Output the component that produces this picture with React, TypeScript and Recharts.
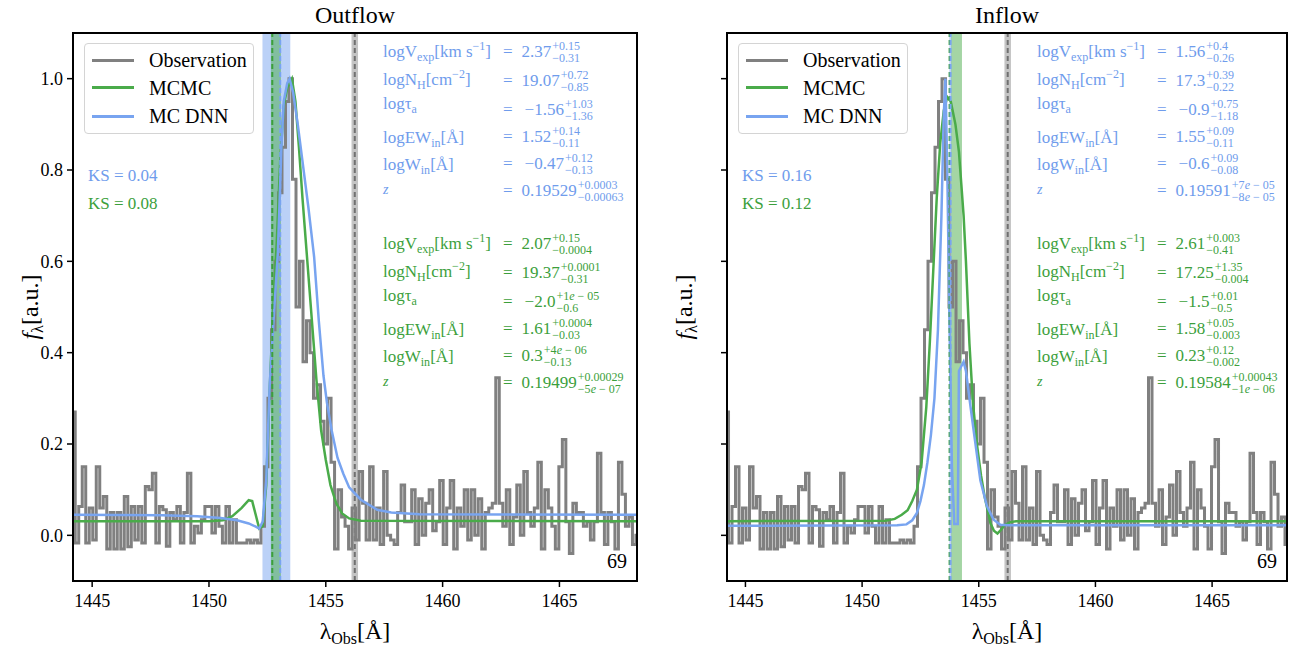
import React from 'react';
import { ComposedChart, Line, XAxis, YAxis, ReferenceArea, ReferenceLine } from 'recharts';

const SERIF = '"Liberation Serif", "DejaVu Serif", serif';
const GRAY = '#808080';
const GREEN = '#4aab4a';
const BLUE = '#78a4f0';
const GREEN_TXT = '#3c9f3c';
const BLUE_TXT = '#6f9cec';

// observed spectrum: pixels of 0.15 A starting at 1444.2 A (same in both panels)
const OBS_START = 1444.2;
const OBS_STEP = 0.15;
const obsFlux = [
  0.27, -0.017, 0.063, 0.15, -0.017, 0.06, -0.01, 0.15, 0.06, 0.085,
  -0.03, 0.05, -0.03, 0.05, -0.03, 0.085, -0.025, 0.063, -0.01, 0.063,
  -0.017, 0.107, 0.1, 0.136, -0.017, 0.063, 0.056, -0.024, 0.05, 0.034,
  0.063, -0.017, 0.05, 0.136, -0.017, 0.02, 0.005, 0.034, 0.063, 0.063,
  0.005, 0.063, 0.02, -0.017, 0.063, -0.017, 0.034, -0.017, -0.017, -0.017,
  -0.01, -0.017, -0.01, -0.017,
  0.02, 0.15, 0.3, 0.45, 0.6, 0.75, 0.85, 0.95, 1.0, 0.78,
  0.5, 0.6, 0.38, 0.47, 0.4, 0.3, 0.33, 0.25, 0.2, 0.3,
  0.16, -0.03, 0.1, 0.04, 0.02, -0.03, 0.06, -0.01, 0.14, 0.07,
  -0.01, 0.15, -0.01, 0.06, -0.02, 0.14, 0.0, -0.01,
  -0.02, 0.05, 0.11, 0.03, 0.03, 0.1, -0.02, 0.08, 0.0, 0.07,
  0.1, 0.01, 0.03, 0.12, -0.02, 0.06, 0.12, -0.03, 0.06, 0.02,
  0.1, -0.01, 0.1, 0.0, 0.08, -0.03, 0.05, 0.06, 0.07, 0.345,
  0.07, 0.02, 0.1, -0.02, 0.04, 0.11, 0.0, 0.14, 0.05, 0.02,
  0.06, 0.16, -0.03, 0.1, 0.06, 0.02, -0.03, 0.15, 0.21, 0.03,
  -0.04, 0.07, 0.05, 0.05, 0.02, 0.03, -0.01, 0.03, 0.18, 0.05,
  -0.02, 0.05, 0.03, -0.03, 0.16, 0.09, 0.02, 0.04, -0.02, 0.0,
];

// Outflow fits
const outMcmcWave = [1444.1, 1450.0, 1450.6, 1451.0, 1451.4, 1451.7, 1451.85, 1452.0, 1452.15, 1452.3, 1452.45, 1452.6, 1452.75, 1452.9, 1453.05, 1453.2, 1453.35, 1453.55, 1453.7, 1453.85, 1454.0, 1454.15, 1454.3, 1454.45, 1454.6, 1454.8, 1455.0, 1455.2, 1455.45, 1455.7, 1456.0, 1456.5, 1468.4];
const outMcmcFlux = [0.031, 0.031, 0.033, 0.042, 0.06, 0.077, 0.075, 0.045, 0.015, 0.02, 0.11, 0.32, 0.5, 0.64, 0.82, 0.94, 0.98, 1.0, 0.95, 0.85, 0.74, 0.64, 0.54, 0.44, 0.34, 0.23, 0.165, 0.11, 0.07, 0.048, 0.037, 0.032, 0.031];
const outDnnWave = [1444.1, 1448.0, 1449.5, 1450.5, 1451.2, 1451.7, 1452.0, 1452.15, 1452.3, 1452.45, 1452.6, 1452.8, 1452.95, 1453.1, 1453.2, 1453.35, 1453.45, 1453.6, 1453.8, 1454.0, 1454.25, 1454.5, 1454.7, 1454.9, 1455.05, 1455.25, 1455.5, 1455.75, 1456.0, 1456.5, 1457.2, 1457.8, 1459.0, 1468.4];
const outDnnFlux = [0.045, 0.044, 0.042, 0.038, 0.033, 0.026, 0.019, 0.015, 0.03, 0.12, 0.33, 0.5, 0.62, 0.85, 0.95, 0.99, 1.0, 0.97, 0.9, 0.82, 0.72, 0.61, 0.47, 0.35, 0.29, 0.23, 0.17, 0.135, 0.105, 0.078, 0.056, 0.05, 0.046, 0.045];

// Inflow fits
const inMcmcWave = [1444.1, 1451.0, 1451.4, 1451.7, 1451.95, 1452.15, 1452.35, 1452.55, 1452.75, 1452.9, 1453.05, 1453.2, 1453.35, 1453.5, 1453.65, 1453.8, 1454.0, 1454.15, 1454.25, 1454.35, 1454.45, 1454.6, 1454.75, 1454.93, 1455.1, 1455.25, 1455.5, 1455.65, 1455.8, 1455.95, 1456.1, 1456.35, 1456.6, 1468.4];
const inMcmcFlux = [0.031, 0.032, 0.036, 0.045, 0.055, 0.075, 0.1, 0.16, 0.28, 0.42, 0.58, 0.74, 0.86, 0.93, 0.96, 0.95, 0.9, 0.84, 0.77, 0.7, 0.6, 0.42, 0.29, 0.196, 0.13, 0.085, 0.027, 0.01, 0.004, 0.012, 0.022, 0.029, 0.031, 0.031];
const inDnnWave = [1444.1, 1451.5, 1451.9, 1452.15, 1452.35, 1452.5, 1452.65, 1452.8, 1452.95, 1453.1, 1453.25, 1453.4, 1453.5, 1453.57, 1453.65, 1453.75, 1453.85, 1453.95, 1454.1, 1454.15, 1454.35, 1454.45, 1454.6, 1454.78, 1455.07, 1455.35, 1455.64, 1455.92, 1456.3, 1468.4];
const inDnnFlux = [0.021, 0.022, 0.024, 0.033, 0.049, 0.075, 0.11, 0.16, 0.22, 0.3, 0.45, 0.7, 0.92, 1.0, 0.8, 0.45, 0.15, 0.025, 0.025, 0.36, 0.38, 0.36, 0.3, 0.23, 0.12, 0.064, 0.034, 0.023, 0.022, 0.022];

const xTicks = [1445, 1450, 1455, 1460, 1465];
const yTicks = [0, 0.2, 0.4, 0.6, 0.8, 1.0];
const legendNames = ['Observation', 'MCMC', 'MC DNN'];

const outKs = ['0.04', '0.08'];
const inKs = ['0.16', '0.12'];

// [value, upper, lower]
const outDnnParams = [
  ['2.37', '+0.15', '−0.31'], ['19.07', '+0.72', '−0.85'], ['−1.56', '+1.03', '−1.36'],
  ['1.52', '+0.14', '−0.11'], ['−0.47', '+0.12', '−0.13'], ['0.19529', '+0.0003', '−0.00063'],
];
const outMcmcParams = [
  ['2.07', '+0.15', '−0.0004'], ['19.37', '+0.0001', '−0.31'], ['−2.0', '+1e−05', '−0.6'],
  ['1.61', '+0.0004', '−0.03'], ['0.3', '+4e−06', '−0.13'], ['0.19499', '+0.00029', '−5e−07'],
];
const inDnnParams = [
  ['1.56', '+0.4', '−0.26'], ['17.3', '+0.39', '−0.22'], ['−0.9', '+0.75', '−1.18'],
  ['1.55', '+0.09', '−0.11'], ['−0.6', '+0.09', '−0.08'], ['0.19591', '+7e−05', '−8e−05'],
];
const inMcmcParams = [
  ['2.61', '+0.003', '−0.41'], ['17.25', '+1.35', '−0.004'], ['−1.5', '+0.01', '−0.5'],
  ['1.58', '+0.05', '−0.003'], ['0.23', '+0.12', '−0.002'], ['0.19584', '+0.00043', '−1e−06'],
];

const toPoints = (w: number[], f: number[]) => w.map((x, i) => ({ w: x, f: f[i] }));
const obsData = obsFlux.map((f, i) => ({ w: +(OBS_START + i * OBS_STEP).toFixed(2), f }));

const sub: React.CSSProperties = { fontSize: 12, position: 'relative', top: 4 };
const sup: React.CSSProperties = { fontSize: 12, position: 'relative', top: -7 };

const paramLabels = [
  <>logV<span style={sub}>exp</span>[km s<span style={sup}>−1</span>]</>,
  <>logN<span style={sub}>H</span>[cm<span style={sup}>−2</span>]</>,
  <>logτ<span style={sub}>a</span></>,
  <>logEW<span style={sub}>in</span>[Å]</>,
  <>logW<span style={sub}>in</span>[Å]</>,
  <i style={{ fontSize: 14 }}>z</i>,
];
const labelBase = [58, 86, 110, 144, 171, 195];
const valueBase = [58, 87, 116, 143, 170, 197];

function sci(s: string) {
  const m = s.match(/^([+−]?[\d.]+)e([+−])(\d+)$/);
  if (!m) return s;
  return <>{m[1]}<i>e</i>{` ${m[2]} `}{m[3]}</>;
}

function ParamBlock({ x, dy, color, params }: { x: number; dy: number; color: string; params: string[][] }) {
  return (
    <>
      {params.map((p, i) => (
        <React.Fragment key={i}>
          <div style={{ position: 'absolute', left: x, top: labelBase[i] + dy - 15.75, fontSize: 17, lineHeight: '20px', color, whiteSpace: 'nowrap' }}>
            {paramLabels[i]}
          </div>
          <div style={{ position: 'absolute', left: x + 120, top: valueBase[i] + dy - 15.75, fontSize: 17, lineHeight: '20px', color, whiteSpace: 'nowrap' }}>
            <span>=</span>
            <span style={{ marginLeft: p[0].startsWith('−') ? 12 : 9 }}>{p[0]}</span>
            <span style={{ display: 'inline-flex', flexDirection: 'column', fontSize: 12, lineHeight: '12px', verticalAlign: 'baseline', position: 'relative', top: -7, marginLeft: 1 }}>
              <span>{sci(p[1])}</span>
              <span>{sci(p[2])}</span>
            </span>
          </div>
        </React.Fragment>
      ))}
    </>
  );
}

type PanelProps = {
  chartX: number; chartW: number; mLeft: number; mRight: number;
  xDomain: [number, number]; showYLabels: boolean; title: string;
  mcmc: { w: number; f: number }[]; dnn: { w: number; f: number }[];
  blueBand: [number, number]; greenBand: [number, number];
  blueLine: number; greenLine: number; ks: string[];
  dnnParams: string[][]; mcmcParams: string[][];
};

function Panel(p: PanelProps) {
  const plotLeft = p.chartX + p.mLeft + 50;
  const plotRight = p.chartX + p.chartW - p.mRight;
  const cx = (plotLeft + plotRight) / 2;
  const axisStyle = { fill: '#000', fontSize: 18, fontFamily: SERIF };
  const legendColors = [GRAY, GREEN, BLUE];
  return (
    <>
      <div style={{ position: 'absolute', left: p.chartX, top: 0 }}>
        <ComposedChart width={p.chartW} height={648} margin={{ top: 33, right: p.mRight, bottom: 37, left: p.mLeft }}>
          <XAxis type="number" dataKey="w" domain={p.xDomain} allowDataOverflow ticks={xTicks} height={30}
            tickSize={6} tickMargin={7} tick={axisStyle} axisLine={{ stroke: '#000', strokeWidth: 2 }} tickLine={{ stroke: '#000', strokeWidth: 1.5 }} />
          <YAxis type="number" domain={[-0.1, 1.1]} allowDataOverflow ticks={yTicks} width={50}
            tickFormatter={(v: number) => (p.showYLabels ? v.toFixed(1) : '')}
            tickSize={6} tickMargin={4} tick={axisStyle} axisLine={{ stroke: '#000', strokeWidth: 2 }} tickLine={{ stroke: '#000', strokeWidth: 1.5 }} />
          <ReferenceArea x1={p.blueBand[0]} x2={p.blueBand[1]} fill={BLUE} fillOpacity={0.5} stroke="none" />
          <ReferenceArea x1={p.greenBand[0]} x2={p.greenBand[1]} fill={GREEN} fillOpacity={0.5} stroke="none" />
          <ReferenceArea x1={1456.1} x2={1456.38} fill="#b0b0b0" fillOpacity={0.75} stroke="none" />
          <ReferenceLine x={1456.24} stroke="#707070" strokeWidth={2} strokeDasharray="5 3" />
          <Line data={obsData} dataKey="f" type="step" stroke={GRAY} strokeWidth={3} dot={false} isAnimationActive={false} />
          <Line data={p.mcmc} dataKey="f" type="linear" stroke={GREEN} strokeWidth={2.5} dot={false} isAnimationActive={false} />
          <Line data={p.dnn} dataKey="f" type="linear" stroke={BLUE} strokeWidth={2.5} dot={false} isAnimationActive={false} />
          <ReferenceLine x={p.greenLine} stroke={GREEN_TXT} strokeWidth={2} strokeDasharray="5 3" />
          <ReferenceLine x={p.blueLine} stroke={BLUE} strokeWidth={2} strokeDasharray="5 3" />
        </ComposedChart>
      </div>
      {/* axes frame */}
      <div style={{ position: 'absolute', left: plotLeft - 1, top: 32, width: plotRight - plotLeft + 2, height: 550, border: '2px solid #000', boxSizing: 'border-box', pointerEvents: 'none' }} />

      <div style={{ position: 'absolute', left: cx - 100, width: 200, top: 0, textAlign: 'center', fontSize: 24, lineHeight: '30px' }}>{p.title}</div>
      <div style={{ position: 'absolute', left: cx - 100, width: 200, top: 616, textAlign: 'center', fontSize: 24, lineHeight: '30px' }}>
        λ<span style={{ fontSize: 16, position: 'relative', top: 5 }}>Obs</span>[Å]
      </div>
      <div style={{ position: 'absolute', left: plotLeft - 43 - 60, width: 120, top: 307 - 15, height: 30, textAlign: 'center', fontSize: 24, lineHeight: '30px', transform: 'rotate(-90deg)' }}>
        <i>f</i><span style={{ fontSize: 16, position: 'relative', top: 5 }}>λ</span>[a.u.]
      </div>

      <div style={{ position: 'absolute', left: plotLeft + 11, top: 43, width: 170, height: 91, boxSizing: 'border-box', border: '1px solid #d4d4d4', borderRadius: 4, background: 'rgba(255,255,255,0.8)' }}>
        {legendNames.map((n, i) => (
          <React.Fragment key={n}>
            <div style={{ position: 'absolute', left: 7, top: [16, 43, 72][i] - 1.5, width: 42, height: 3, background: legendColors[i] }} />
            <div style={{ position: 'absolute', left: 64, top: [22.7, 50.3, 78.7][i] - 18.75, fontSize: 20, lineHeight: '24px', whiteSpace: 'nowrap' }}>{n}</div>
          </React.Fragment>
        ))}
      </div>

      <div style={{ position: 'absolute', left: plotLeft + 15, top: 182 - 15.75, fontSize: 17, lineHeight: '20px', color: BLUE_TXT }}>KS = {p.ks[0]}</div>
      <div style={{ position: 'absolute', left: plotLeft + 15, top: 210 - 15.75, fontSize: 17, lineHeight: '20px', color: GREEN_TXT }}>KS = {p.ks[1]}</div>

      <ParamBlock x={plotLeft + 310} dy={0} color={BLUE_TXT} params={p.dnnParams} />
      <ParamBlock x={plotLeft + 310} dy={192} color={GREEN_TXT} params={p.mcmcParams} />

      <div style={{ position: 'absolute', left: plotRight - 60, width: 50, top: 568 - 18.75, textAlign: 'right', fontSize: 20, lineHeight: '24px' }}>69</div>
    </>
  );
}

export default function App() {
  return (
    <div style={{ position: 'absolute', left: 0, top: 0, width: 1293, height: 648, background: '#fff', fontFamily: SERIF, color: '#000', overflow: 'hidden' }}>
      <Panel chartX={0} chartW={645} mLeft={23} mRight={8} xDomain={[1444.18, 1468.32]} showYLabels title="Outflow"
        mcmc={toPoints(outMcmcWave, outMcmcFlux)} dnn={toPoints(outDnnWave, outDnnFlux)}
        blueBand={[1452.29, 1453.48]} greenBand={[1452.65, 1453.08]} blueLine={1453.05} greenLine={1452.71}
        ks={outKs} dnnParams={outDnnParams} mcmcParams={outMcmcParams} />
      <Panel chartX={645} chartW={648} mLeft={32} mRight={6} xDomain={[1444.21, 1468.21]} showYLabels={false} title="Inflow"
        mcmc={toPoints(inMcmcWave, inMcmcFlux)} dnn={toPoints(inDnnWave, inDnnFlux)}
        blueBand={[1453.74, 1453.84]} greenBand={[1453.82, 1454.28]} blueLine={1453.79} greenLine={1453.75}
        ks={inKs} dnnParams={inDnnParams} mcmcParams={inMcmcParams} />
    </div>
  );
}
